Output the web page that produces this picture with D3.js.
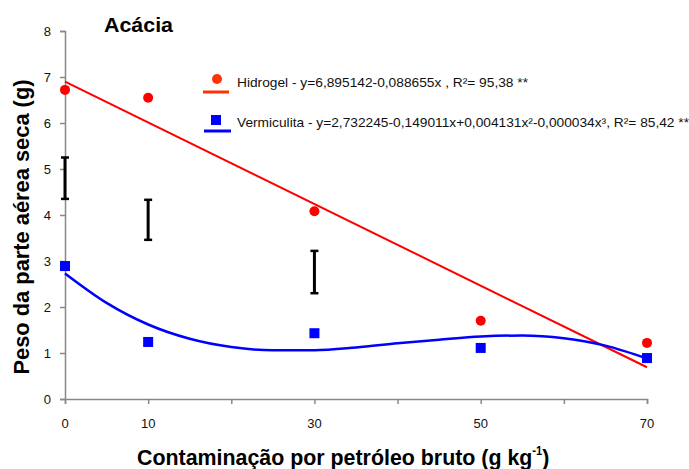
<!DOCTYPE html>
<html><head><meta charset="utf-8">
<script src="https://cdn.jsdelivr.net/npm/d3@7"></script>
<style>body{margin:0;background:#fff}svg{display:block}</style>
</head><body><svg id="c" width="689" height="469"></svg>
<script>
const doses = [0, 10, 30, 50, 70];
const hidrogel = [6.72, 6.55, 4.08, 1.70, 1.22];
const vermiculita = [2.89, 1.24, 1.43, 1.11, 0.89];
const hidrogelTrendX = [0, 70];
const hidrogelTrend = [6.90, 0.69];
const vermTrendX = [0, 5, 10, 15, 20, 25, 30, 35, 40, 45, 50, 55, 60, 65, 70];
const vermTrend = [2.73, 2.09, 1.62, 1.31, 1.13, 1.06, 1.06, 1.12, 1.21, 1.29, 1.36, 1.38, 1.32, 1.16, 0.88];
const errX = [0, 10, 30];
const errLow = [4.35, 3.46, 2.30];
const errHigh = [5.25, 4.33, 3.22];
const xTicks = [0, 10, 20, 30, 40, 50, 60, 70];
const xLabels = [0, 10, 30, 50, 70];
const yTicks = [0, 1, 2, 3, 4, 5, 6, 7, 8];
const legendLabels = ["Hidrogel - y=6,895142-0,088655x , R\u00b2= 95,38 **",
  "Vermiculita - y=2,732245-0,149011x+0,004131x\u00b2-0,000034x\u00b3, R\u00b2= 85,42 **"];

const svg = d3.select("#c");
const x = d3.scaleLinear().domain([0, 70]).range([65, 647]);
const y = d3.scaleLinear().domain([0, 8]).range([399, 31]);
const axisCol = "#888";

// axes
const gx = svg.append("g").attr("transform", "translate(0,399)")
  .call(d3.axisBottom(x).tickValues(xTicks).tickSize(5).tickFormat(""));
gx.selectAll("path,line").attr("stroke", axisCol).attr("stroke-width", 1.5);
const gy = svg.append("g").attr("transform", "translate(65,0)")
  .call(d3.axisLeft(y).tickValues(yTicks).tickSize(5).tickFormat(""));
gy.selectAll("path,line").attr("stroke", axisCol).attr("stroke-width", 1.5);

svg.append("g").selectAll("text").data(xLabels).join("text")
  .attr("x", d => x(d)).attr("y", 428).attr("text-anchor", "middle")
  .attr("font-family", "'Liberation Sans Narrow', 'Liberation Sans', Arial, sans-serif")
  .attr("font-size", 13).attr("fill", "#111").text(d => d);
svg.append("g").selectAll("text").data(yTicks).join("text")
  .attr("x", 51).attr("y", d => y(d) + 5).attr("text-anchor", "end")
  .attr("font-family", "'Liberation Sans', Arial, sans-serif")
  .attr("font-size", 13).attr("fill", "#111").text(d => d);

// error bars
const eb = svg.append("g").attr("stroke", "#000").attr("stroke-width", 3);
errX.forEach((d, i) => {
  eb.append("line").attr("x1", x(d)).attr("x2", x(d)).attr("y1", y(errLow[i])).attr("y2", y(errHigh[i]));
  [errLow[i], errHigh[i]].forEach(v => eb.append("line").attr("stroke-width", 2.5)
    .attr("x1", x(d) - 4).attr("x2", x(d) + 4).attr("y1", y(v)).attr("y2", y(v)));
});

// trend lines
const line = d3.line().x(d => x(d[0])).y(d => y(d[1]));
svg.append("path").attr("d", line(hidrogelTrendX.map((d, i) => [d, hidrogelTrend[i]])))
  .attr("fill", "none").attr("stroke", "#ff0000").attr("stroke-width", 2);
svg.append("path").attr("d", line.curve(d3.curveMonotoneX)(vermTrendX.map((d, i) => [d, vermTrend[i]])))
  .attr("fill", "none").attr("stroke", "#0000ff").attr("stroke-width", 2.5);

// markers
svg.append("g").selectAll("circle").data(doses).join("circle")
  .attr("cx", d => x(d)).attr("cy", (d, i) => y(hidrogel[i])).attr("r", 5).attr("fill", "#ff0000");
svg.append("g").selectAll("rect").data(doses).join("rect")
  .attr("x", d => x(d) - 5).attr("y", (d, i) => y(vermiculita[i]) - 5)
  .attr("width", 10).attr("height", 10).attr("fill", "#0000ff");

// legend
const lg = svg.append("g").attr("font-family", "'Liberation Sans', Arial, sans-serif").attr("font-size", 13.5).attr("fill", "#111");
lg.append("circle").attr("cx", 217).attr("cy", 79).attr("r", 5).attr("fill", "#ff3300");
lg.append("line").attr("x1", 203).attr("x2", 229).attr("y1", 92).attr("y2", 92).attr("stroke", "#ff3300").attr("stroke-width", 3);
lg.append("text").attr("x", 237).attr("y", 87).attr("textLength", 291).attr("lengthAdjust", "spacingAndGlyphs").text(legendLabels[0]);
lg.append("rect").attr("x", 211).attr("y", 115).attr("width", 10).attr("height", 10).attr("fill", "#0000ff");
lg.append("line").attr("x1", 204).attr("x2", 231).attr("y1", 131).attr("y2", 131).attr("stroke", "#0000ff").attr("stroke-width", 3);
lg.append("text").attr("x", 237).attr("y", 127).attr("textLength", 452).attr("lengthAdjust", "spacingAndGlyphs").text(legendLabels[1]);

// titles
svg.append("text").attr("x", 138.5).attr("y", 32).attr("text-anchor", "middle")
  .attr("font-family", "'Liberation Sans', Arial, sans-serif").attr("font-weight", "bold").attr("font-size", 20.5)
  .attr("textLength", 69).attr("lengthAdjust", "spacingAndGlyphs").text("Acácia");
svg.append("text").attr("transform", "translate(29,227) rotate(-90)").attr("text-anchor", "middle")
  .attr("font-family", "'Liberation Sans', Arial, sans-serif").attr("font-weight", "bold").attr("font-size", 21.5)
  .attr("textLength", 295).attr("lengthAdjust", "spacingAndGlyphs")
  .text("Peso da parte aérea seca (g)");
const xt = svg.append("text").attr("transform", "translate(137,465) scale(0.93,1)")
  .attr("font-family", "'Liberation Sans', Arial, sans-serif").attr("font-weight", "bold").attr("font-size", 23);
xt.append("tspan").text("Contaminação por petróleo bruto (g kg");
xt.append("tspan").attr("dy", -10).attr("font-size", 12).text("-1");
xt.append("tspan").attr("dy", 10).text(")");
</script></body></html>
